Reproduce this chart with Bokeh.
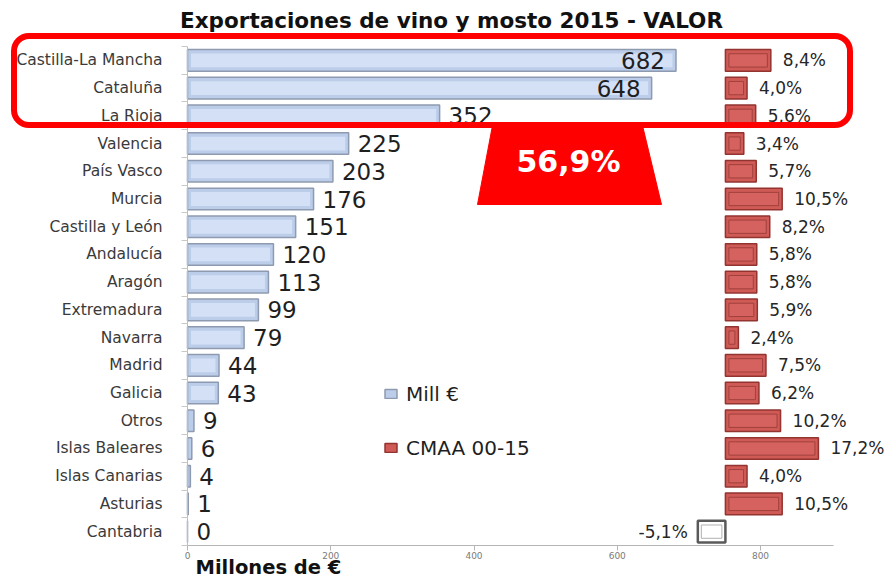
from bokeh.plotting import figure
from bokeh.models import (ColumnDataSource, FixedTicker, BoxAnnotation, PolyAnnotation,
                          Label, Legend, LegendItem, Range1d)
from bokeh.core.properties import value
from bokeh.embed import file_html
from bokeh.resources import INLINE

# ---------------- data ----------------
regions = ["Castilla-La Mancha", "Cataluña", "La Rioja", "Valencia", "País Vasco", "Murcia",
           "Castilla y León", "Andalucía", "Aragón", "Extremadura", "Navarra", "Madrid",
           "Galicia", "Otros", "Islas Baleares", "Islas Canarias", "Asturias", "Cantabria"]
mill_eur = [682, 648, 352, 225, 203, 176, 151, 120, 113, 99, 79, 44, 43, 9, 6, 4, 1, 0]
cmaa = [8.4, 4.0, 5.6, 3.4, 5.7, 10.5, 8.2, 5.8, 5.8, 5.9, 2.4, 7.5, 6.2, 10.2, 17.2, 4.0, 10.5, -5.1]
x_ticks = [0, 200, 400, 600, 800]
title_text = "Exportaciones de vino y mosto 2015 - VALOR"
series_names = ["Mill €", "CMAA 00-15"]
x_title = "Millones de €"

# ---------------- styling / layout constants ----------------
FONT = "DejaVu Sans"
W, H = 886, 579
X0_PX = 187          # pixel of value 0
PX_PER_UNIT = 0.71625
ROW_PX = 27.72       # pixel height of one category row
ROW0_PX = 59.9       # pixel centre of the first row
AXIS_END = 902       # end of the drawn value axis line
CM_BASE = 751        # where the CMAA bars start on the value axis
CM_SCALE = 7.55      # value-axis units per percentage point
INSIDE_MIN = 600     # labels of bars at least this long are drawn inside the bar
INSET = 3.5 / PX_PER_UNIT   # bevel inset of the bars, in value units

n = len(regions)
ys = [n - 1 - i for i in range(n)]
top3_share = sum(mill_eur[:3]) / sum(mill_eur) * 100
share_text = f"{top3_share:.1f}".replace(".", ",") + "%"

def pct(v):
    return f"{v:.1f}".replace(".", ",") + "%"

c_right = [CM_BASE + v * CM_SCALE for v in cmaa]
src = ColumnDataSource(dict(
    y=ys,
    mill=mill_eur,
    b_in_left=[INSET] * n,
    b_in_right=[max(INSET, v - INSET) for v in mill_eur],
    c_left=[CM_BASE] * n,
    c_right=c_right,
    c_in_left=[min(CM_BASE, r) + INSET for r in c_right],
    c_in_right=[max(CM_BASE, r) - INSET for r in c_right],
    c_fill=["#cf5a56" if v >= 0 else "#ffffff" for v in cmaa],
    c_line=["#933431" if v >= 0 else "#5a5a5a" for v in cmaa],
    c_in_fill=["#d5625e" if v >= 0 else "#ffffff" for v in cmaa],
    c_in_line=["#a0403c" if v >= 0 else "#b0b0b0" for v in cmaa],
    c_lw=[1.5 if v >= 0 else 2.5 for v in cmaa],
))

x_range = Range1d(-X0_PX / PX_PER_UNIT, (W - X0_PX) / PX_PER_UNIT)
y_range = Range1d((n - 1) - (H - ROW0_PX) / ROW_PX, (n - 1) + ROW0_PX / ROW_PX)

p = figure(width=W, height=H, output_backend="svg", toolbar_location=None,
           x_range=x_range, y_range=y_range, min_border=0)
p.title.visible = False
p.outline_line_color = None
p.grid.visible = False
p.background_fill_color = "white"
p.border_fill_color = "white"

blue = p.hbar(y="y", left=0, right="mill", height=0.78, source=src,
              fill_color="#bccdea", line_color="#8e9aaf", line_width=1.5)
p.hbar(y="y", left="b_in_left", right="b_in_right", height=0.5, source=src,
       fill_color="#d3e0f6", line_color=None)
red = p.hbar(y="y", left="c_left", right="c_right", height=0.78, source=src,
             fill_color="c_fill", line_color="c_line", line_width="c_lw")
p.hbar(y="y", left="c_in_left", right="c_in_right", height=0.48, source=src,
       fill_color="c_in_fill", line_color="c_in_line", line_width=1)

# value labels for Mill €
out_idx = [i for i, v in enumerate(mill_eur) if v < INSIDE_MIN]
in_idx = [i for i, v in enumerate(mill_eur) if v >= INSIDE_MIN]
src_out = ColumnDataSource(dict(y=[ys[i] for i in out_idx], x=[mill_eur[i] for i in out_idx],
                                t=[str(mill_eur[i]) for i in out_idx]))
src_in = ColumnDataSource(dict(y=[ys[i] for i in in_idx], x=[mill_eur[i] for i in in_idx],
                               t=[str(mill_eur[i]) for i in in_idx]))
p.text(x="x", y="y", text="t", source=src_out, x_offset=9, text_align="left",
       text_baseline="middle", text_font=value(FONT), text_font_size="23px", text_color="#1f1f1f")
p.text(x="x", y="y", text="t", source=src_in, x_offset=-11, text_align="right",
       text_baseline="middle", text_font=value(FONT), text_font_size="23px", text_color="#1f1f1f")

# value labels for CMAA
pos_idx = [i for i, v in enumerate(cmaa) if v >= 0]
neg_idx = [i for i, v in enumerate(cmaa) if v < 0]
src_pos = ColumnDataSource(dict(y=[ys[i] for i in pos_idx],
                                x=[c_right[i] for i in pos_idx],
                                t=[pct(cmaa[i]) for i in pos_idx]))
src_neg = ColumnDataSource(dict(y=[ys[i] for i in neg_idx],
                                x=[c_right[i] for i in neg_idx],
                                t=[pct(cmaa[i]) for i in neg_idx]))
p.text(x="x", y="y", text="t", source=src_pos, x_offset=12, text_align="left",
       text_baseline="middle", text_font=value(FONT), text_font_size="17px", text_color="#262626")
p.text(x="x", y="y", text="t", source=src_neg, x_offset=-10, text_align="right",
       text_baseline="middle", text_font=value(FONT), text_font_size="17px", text_color="#262626")

# axes (drawn at fixed data positions, so the plot area can span the whole canvas)
xa = p.xaxis[0]
xa.fixed_location = -0.5
xa.ticker = FixedTicker(ticks=x_ticks)
xa.bounds = (0, AXIS_END)
xa.axis_line_color = "#b5b5b5"
xa.major_tick_line_color = "#b5b5b5"
xa.major_tick_out = 5
xa.major_tick_in = 0
xa.minor_tick_line_color = None
xa.major_label_text_font = FONT
xa.major_label_text_font_size = "9px"
xa.major_label_text_color = "#7a7a7a"
xa.major_label_standoff = 1

ya = p.yaxis[0]
ya.fixed_location = 0
boundaries = [k - 0.5 for k in range(n + 1)]
ya.ticker = FixedTicker(ticks=ys, minor_ticks=boundaries)
ya.bounds = (-0.5, n - 0.5)
ya.major_label_overrides = {y: r for y, r in zip(ys, regions)}
ya.axis_line_color = "#bdbdbd"
ya.major_tick_in = 0
ya.major_tick_out = 0
ya.minor_tick_in = 0
ya.minor_tick_out = 6
ya.minor_tick_line_color = "#c8c8c8"
ya.major_label_standoff = 19
ya.major_label_text_font = FONT
ya.major_label_text_font_size = "15.5px"
ya.major_label_text_color = "#3a3a3a"

# legend
legend = Legend(items=[LegendItem(label=series_names[0], renderers=[blue], index=0),
                       LegendItem(label=series_names[1], renderers=[red], index=0)],
                location=(383, 119.5), orientation="vertical",
                padding=0, margin=0, spacing=30, glyph_width=15, glyph_height=11,
                label_standoff=8, label_text_font=FONT, label_text_font_size="20px",
                label_text_color="#1f1f1f", border_line_color=None, background_fill_alpha=0)
p.add_layout(legend)

# title and axis title
p.add_layout(Label(x=451, y=20, x_units="canvas", y_units="canvas", text=title_text,
                   text_align="center", text_baseline="middle", text_font=FONT,
                   text_font_style="bold", text_font_size="21.5px", text_color="#111111"))
p.add_layout(Label(x=195, y=567, x_units="canvas", y_units="canvas", text=x_title,
                   text_align="left", text_baseline="middle", text_font=FONT,
                   text_font_style="bold", text_font_size="19.5px", text_color="#111111"))

# highlight of the top three regions
p.add_layout(BoxAnnotation(left=13.5, right=849.5, top=35.5, bottom=124.5,
                           left_units="canvas", right_units="canvas",
                           top_units="canvas", bottom_units="canvas",
                           fill_alpha=0, line_color="#ff0000", line_alpha=1, line_width=6,
                           border_radius=15, level="overlay"))
p.add_layout(PolyAnnotation(xs=[492, 642, 661, 477], ys=[125, 125, 204, 204],
                            xs_units="canvas", ys_units="canvas", level="overlay",
                            fill_color="#ff0000", fill_alpha=1, line_color="#ff0000", line_alpha=1))
p.add_layout(Label(x=568, y=161, x_units="canvas", y_units="canvas", text=share_text,
                   text_align="center", text_baseline="middle", text_font=FONT, level="overlay",
                   text_font_style="bold", text_font_size="30px", text_color="white"))

open("out.html", "w").write(file_html(p, INLINE))
